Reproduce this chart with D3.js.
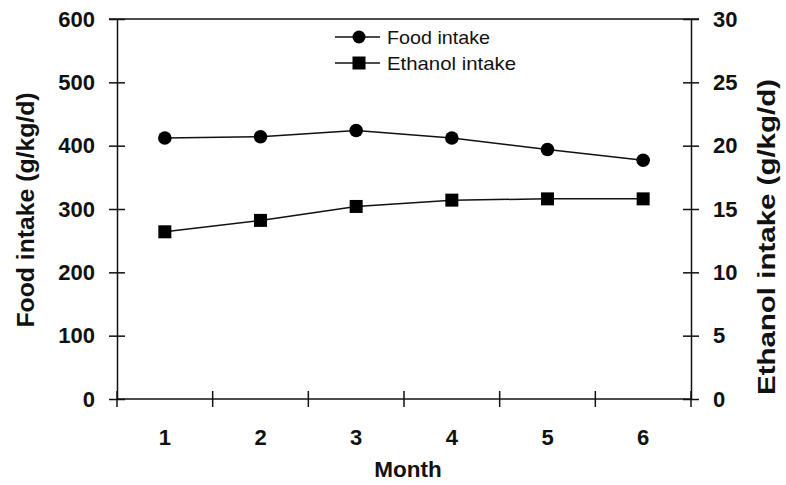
<!DOCTYPE html>
<html><head><meta charset="utf-8">
<script src="https://cdn.jsdelivr.net/npm/d3@7"></script>
<style>body{margin:0;background:#fff}text{font-family:"Liberation Sans",Arial,sans-serif}</style>
</head><body>
<svg id="c" width="786" height="485"></svg>
<script>
const months = ["1","2","3","4","5","6"];
const foodIntake = [412, 414, 424, 412, 394, 377];
const ethanolIntake = [13.2, 14.1, 15.2, 15.7, 15.8, 15.8];
const leftTicks = [0,100,200,300,400,500,600];
const rightTicks = [0,5,10,15,20,25,30];

const svg = d3.select("#c");
const L = 117, R = 691, T = 19, B = 399;
const x = d3.scaleBand().domain(months).range([L, R]);
const yL = d3.scaleLinear().domain([0, 600]).range([B, T]);
const yR = d3.scaleLinear().domain([0, 30]).range([B, T]);
const ink = "#111";

// frame top line
svg.append("line").attr("x1", L-8).attr("x2", R+8).attr("y1", T).attr("y2", T).attr("stroke", ink).attr("stroke-width", 1.5);

// left axis
const gL = svg.append("g").attr("transform", `translate(${L},0)`)
  .call(d3.axisLeft(yL).tickValues(leftTicks).tickSizeInner(8).tickSizeOuter(0).tickPadding(14));
gL.selectAll(".tick line").attr("x2", 8).attr("x1", -8);
// right axis
const gR = svg.append("g").attr("transform", `translate(${R},0)`)
  .call(d3.axisRight(yR).tickValues(rightTicks).tickSizeInner(8).tickSizeOuter(0).tickPadding(14));
gR.selectAll(".tick line").attr("x1", -8).attr("x2", 8);
// bottom axis
const gB = svg.append("g").attr("transform", `translate(0,${B})`)
  .call(d3.axisBottom(x).tickSizeOuter(0).tickPadding(30).tickSize(0));
// category boundary ticks
const bounds = months.map(m => x(m)).concat([R]);
gB.selectAll(".bt").data(bounds).enter().append("line")
  .attr("x1", d => d).attr("x2", d => d).attr("y1", -8).attr("y2", 8)
  .attr("stroke", ink).attr("stroke-width", 1.5);

[gL, gR, gB].forEach(g => {
  g.selectAll(".domain").attr("stroke", ink).attr("stroke-width", 1.5);
  g.selectAll(".tick line").attr("stroke", ink).attr("stroke-width", 1.5);
  g.selectAll("text").attr("font-size", 22).attr("font-weight", "bold").attr("fill", ink)
    .attr("font-family", '"Liberation Sans", Arial, sans-serif');
});
gB.select(".domain").attr("d", `M${L},0H${R}`);

const cx = m => x(m) + x.bandwidth()/2;
const line = d3.line();
svg.append("path").attr("d", line(months.map((m,i) => [cx(m), yL(foodIntake[i])])))
  .attr("fill", "none").attr("stroke", ink).attr("stroke-width", 1.5);
svg.append("path").attr("d", line(months.map((m,i) => [cx(m), yR(ethanolIntake[i])])))
  .attr("fill", "none").attr("stroke", ink).attr("stroke-width", 1.5);
svg.selectAll(".fc").data(foodIntake).enter().append("circle")
  .attr("cx", (d,i) => cx(months[i])).attr("cy", d => yL(d)).attr("r", 6.8).attr("fill", "#000");
svg.selectAll(".es").data(ethanolIntake).enter().append("rect")
  .attr("x", (d,i) => cx(months[i]) - 6.5).attr("y", d => yR(d) - 6.5)
  .attr("width", 13).attr("height", 13).attr("fill", "#000");

// legend
const lg = svg.append("g");
const legendItems = ["Food intake", "Ethanol intake"];
const legendLens = [103, 129];
legendItems.forEach((t, i) => {
  const y = 37 + i*26;
  lg.append("line").attr("x1", 335).attr("x2", 380).attr("y1", y).attr("y2", y).attr("stroke", ink).attr("stroke-width", 1.5);
  if (i === 0) lg.append("circle").attr("cx", 359).attr("cy", y).attr("r", 6.5).attr("fill", "#000");
  else lg.append("rect").attr("x", 352.5).attr("y", y-6.5).attr("width", 13).attr("height", 13).attr("fill", "#000");
  lg.append("text").attr("x", 387).attr("y", y + 6.5).attr("font-size", 18.5).attr("fill", ink)
    .attr("textLength", legendLens[i]).attr("lengthAdjust", "spacingAndGlyphs").text(t);
});

// axis titles
svg.append("text").attr("transform", "translate(34,210) rotate(-90)").attr("text-anchor", "middle")
  .attr("font-size", 24).attr("font-weight", "bold").attr("fill", ink)
  .attr("textLength", 235).attr("lengthAdjust", "spacingAndGlyphs").text("Food intake (g/kg/d)");
svg.append("text").attr("transform", "translate(775,237) rotate(-90)").attr("text-anchor", "middle")
  .attr("font-size", 24).attr("font-weight", "bold").attr("fill", ink)
  .attr("textLength", 316).attr("lengthAdjust", "spacingAndGlyphs").text("Ethanol intake (g/kg/d)");
svg.append("text").attr("x", 408).attr("y", 477).attr("text-anchor", "middle")
  .attr("font-size", 22.5).attr("font-weight", "bold").attr("fill", ink).text("Month");
</script>
</body></html>
